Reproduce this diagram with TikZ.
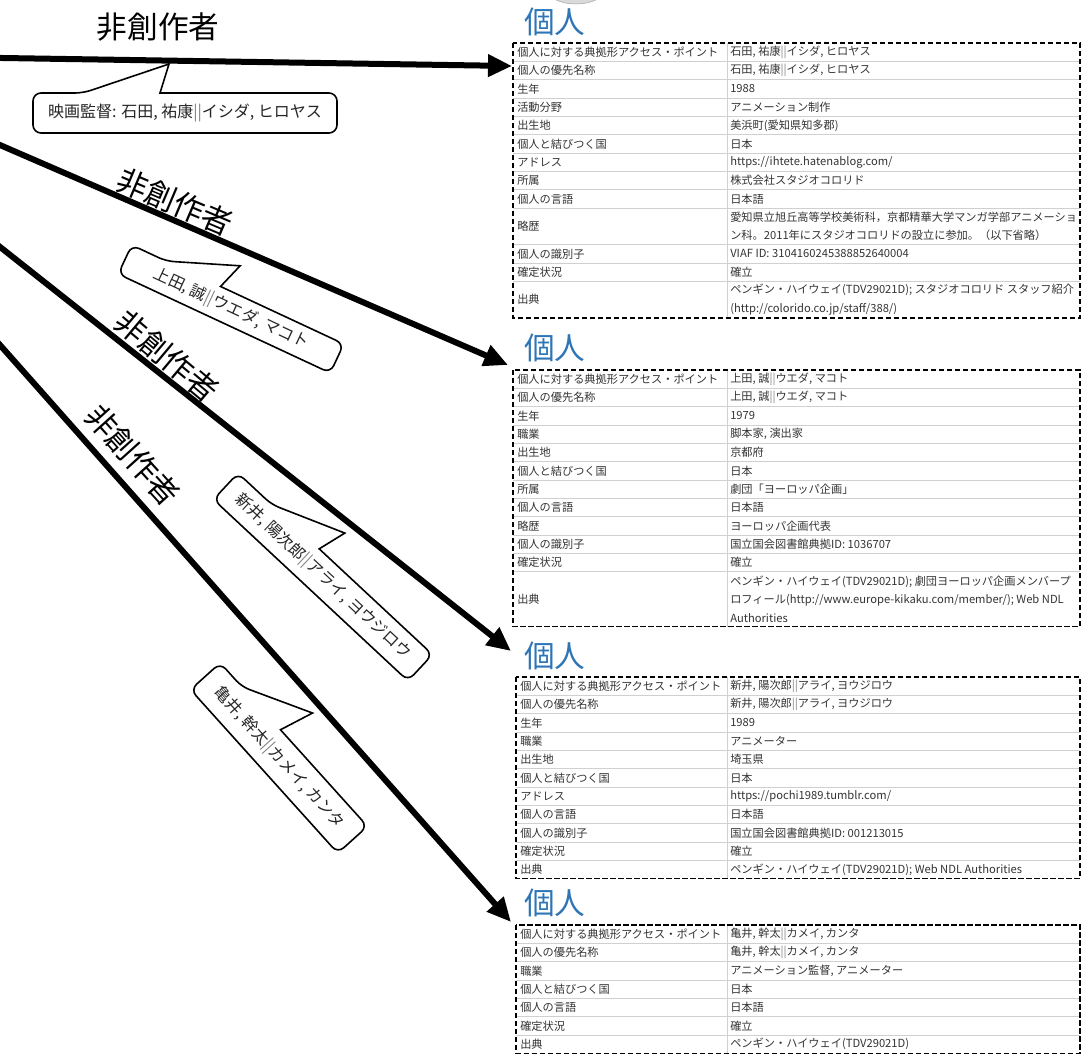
\documentclass[tikz,border=0pt]{standalone}
\usepackage{fontspec}
\setmainfont{Noto Sans CJK JP}
\usepackage{xcolor}
\usepackage{tikz}
\usetikzlibrary{arrows.meta}
\definecolor{head_blue}{HTML}{2E75B6}
\definecolor{rule_gray}{HTML}{D0D0D0}
\definecolor{cell_text}{HTML}{333333}

\begin{document}
\begin{tikzpicture}[x=0.75pt, y=-0.75pt, every node/.style={inner sep=0pt}]
    % Styles
    \tikzstyle{relation} = [line width=4.5pt, -{Triangle[length=18pt, width=16pt]}]
    \tikzstyle{rolelabel} = [font=\fontsize{23}{23}\selectfont]
    \tikzstyle{entityhead} = [anchor=west, text=head_blue, font=\fontsize{23}{23}\selectfont]
    \tikzstyle{tableframe} = [line width=1.1pt, dash pattern=on 4pt off 2pt]
    \tikzstyle{cellrule} = [draw=rule_gray, line width=0.6pt]
    \tikzstyle{fieldname} = [anchor=west, text=cell_text, font=\fontsize{8.4}{13.75}\selectfont]
    \tikzstyle{fieldvalue} = [fieldname, align=left]
    \tikzstyle{balloon} = [line width=1.2pt, fill=white, rounded corners=6pt]
    \tikzstyle{balloontext} = [text=black!85, font=\fontsize{12}{12}\selectfont]

    \useasboundingbox (0,0) rectangle (1084,1057);

    % Edge of a shape above the first table
    \filldraw[fill=gray!30, draw=gray!70] (576,-10) ellipse [x radius=28, y radius=14];

    % Table 1: Ishida
    \node[entityhead] (H1) at (524,22) {個人};
    \draw[cellrule] (513,61.33) -- (1080,61.33) (513,79.67) -- (1080,79.67) (513,98) -- (1080,98)
        (513,116.33) -- (1080,116.33) (513,134.67) -- (1080,134.67) (513,153) -- (1080,153)
        (513,171.33) -- (1080,171.33) (513,189.67) -- (1080,189.67) (513,208) -- (1080,208)
        (513,244.67) -- (1080,244.67) (513,263) -- (1080,263) (513,281.33) -- (1080,281.33)
        (727,43) -- (727,318);
    \draw[tableframe] (513,43) rectangle (1080,318);
    \node[fieldname] (N1_1) at (517,52.17) {個人に対する典拠形アクセス・ポイント};
    \node[fieldname] (N1_2) at (517,70.5) {個人の優先名称};
    \node[fieldname] (N1_3) at (517,88.83) {生年};
    \node[fieldname] (N1_4) at (517,107.17) {活動分野};
    \node[fieldname] (N1_5) at (517,125.5) {出生地};
    \node[fieldname] (N1_6) at (517,143.83) {個人と結びつく国};
    \node[fieldname] (N1_7) at (517,162.17) {アドレス};
    \node[fieldname] (N1_8) at (517,180.5) {所属};
    \node[fieldname] (N1_9) at (517,198.83) {個人の言語};
    \node[fieldname] (N1_10) at (517,226.33) {略歴};
    \node[fieldname] (N1_11) at (517,253.83) {個人の識別子};
    \node[fieldname] (N1_12) at (517,272.17) {確定状況};
    \node[fieldname] (N1_13) at (517,299.67) {出典};
    \node[fieldvalue] (V1_1) at (730,52.17) {石田, 祐康{\color{gray}||}イシダ, ヒロヤス};
    \node[fieldvalue] (V1_2) at (730,70.5) {石田, 祐康{\color{gray}||}イシダ, ヒロヤス};
    \node[fieldvalue] (V1_3) at (730,88.83) {1988};
    \node[fieldvalue] (V1_4) at (730,107.17) {アニメーション制作};
    \node[fieldvalue] (V1_5) at (730,125.5) {美浜町(愛知県知多郡)};
    \node[fieldvalue] (V1_6) at (730,143.83) {日本};
    \node[fieldvalue] (V1_7) at (730,162.17) {https://ihtete.hatenablog.com/};
    \node[fieldvalue] (V1_8) at (730,180.5) {株式会社スタジオコロリド};
    \node[fieldvalue] (V1_9) at (730,198.83) {日本語};
    \node[fieldvalue] (V1_10) at (730,226.33) {愛知県立旭丘高等学校美術科，京都精華大学マンガ学部アニメーショ\\ン科。2011年にスタジオコロリドの設立に参加。（以下省略）};
    \node[fieldvalue] (V1_11) at (730,253.83) {VIAF ID: 3104160245388852640004};
    \node[fieldvalue] (V1_12) at (730,272.17) {確立};
    \node[fieldvalue] (V1_13) at (730,299.67) {ペンギン・ハイウェイ(TDV29021D); スタジオコロリド スタッフ紹介\\(http://colorido.co.jp/staff/388/)};

    % Table 2: Ueda
    \node[entityhead] (H2) at (524,348) {個人};
    \draw[cellrule] (513,388.33) -- (1080,388.33) (513,406.67) -- (1080,406.67) (513,425) -- (1080,425)
        (513,443.33) -- (1080,443.33) (513,461.67) -- (1080,461.67) (513,480) -- (1080,480)
        (513,498.33) -- (1080,498.33) (513,516.67) -- (1080,516.67) (513,535) -- (1080,535)
        (513,553.33) -- (1080,553.33) (513,571.67) -- (1080,571.67)
        (727,370) -- (727,626.67);
    \draw[tableframe] (513,370) rectangle (1080,626.67);
    \node[fieldname] (N2_1) at (517,379.17) {個人に対する典拠形アクセス・ポイント};
    \node[fieldname] (N2_2) at (517,397.5) {個人の優先名称};
    \node[fieldname] (N2_3) at (517,415.83) {生年};
    \node[fieldname] (N2_4) at (517,434.17) {職業};
    \node[fieldname] (N2_5) at (517,452.5) {出生地};
    \node[fieldname] (N2_6) at (517,470.83) {個人と結びつく国};
    \node[fieldname] (N2_7) at (517,489.17) {所属};
    \node[fieldname] (N2_8) at (517,507.5) {個人の言語};
    \node[fieldname] (N2_9) at (517,525.83) {略歴};
    \node[fieldname] (N2_10) at (517,544.17) {個人の識別子};
    \node[fieldname] (N2_11) at (517,562.5) {確定状況};
    \node[fieldname] (N2_12) at (517,599.17) {出典};
    \node[fieldvalue] (V2_1) at (730,379.17) {上田, 誠{\color{gray}||}ウエダ, マコト};
    \node[fieldvalue] (V2_2) at (730,397.5) {上田, 誠{\color{gray}||}ウエダ, マコト};
    \node[fieldvalue] (V2_3) at (730,415.83) {1979};
    \node[fieldvalue] (V2_4) at (730,434.17) {脚本家, 演出家};
    \node[fieldvalue] (V2_5) at (730,452.5) {京都府};
    \node[fieldvalue] (V2_6) at (730,470.83) {日本};
    \node[fieldvalue] (V2_7) at (730,489.17) {劇団「ヨーロッパ企画」};
    \node[fieldvalue] (V2_8) at (730,507.5) {日本語};
    \node[fieldvalue] (V2_9) at (730,525.83) {ヨーロッパ企画代表};
    \node[fieldvalue] (V2_10) at (730,544.17) {国立国会図書館典拠ID: 1036707};
    \node[fieldvalue] (V2_11) at (730,562.5) {確立};
    \node[fieldvalue] (V2_12) at (730,599.17) {ペンギン・ハイウェイ(TDV29021D); 劇団ヨーロッパ企画メンバープ\\ロフィール(http://www.europe-kikaku.com/member/); Web NDL\\Authorities};

    % Table 3: Arai
    \node[entityhead] (H3) at (524,656) {個人};
    \draw[cellrule] (516,695.33) -- (1080,695.33) (516,713.67) -- (1080,713.67) (516,732) -- (1080,732)
        (516,750.33) -- (1080,750.33) (516,768.67) -- (1080,768.67) (516,787) -- (1080,787)
        (516,805.33) -- (1080,805.33) (516,823.67) -- (1080,823.67) (516,842) -- (1080,842)
        (516,860.33) -- (1080,860.33)
        (727,677) -- (727,878.67);
    \draw[tableframe] (516,677) rectangle (1080,878.67);
    \node[fieldname] (N3_1) at (520,686.17) {個人に対する典拠形アクセス・ポイント};
    \node[fieldname] (N3_2) at (520,704.5) {個人の優先名称};
    \node[fieldname] (N3_3) at (520,722.83) {生年};
    \node[fieldname] (N3_4) at (520,741.17) {職業};
    \node[fieldname] (N3_5) at (520,759.5) {出生地};
    \node[fieldname] (N3_6) at (520,777.83) {個人と結びつく国};
    \node[fieldname] (N3_7) at (520,796.17) {アドレス};
    \node[fieldname] (N3_8) at (520,814.5) {個人の言語};
    \node[fieldname] (N3_9) at (520,832.83) {個人の識別子};
    \node[fieldname] (N3_10) at (520,851.17) {確定状況};
    \node[fieldname] (N3_11) at (520,869.5) {出典};
    \node[fieldvalue] (V3_1) at (730,686.17) {新井, 陽次郎{\color{gray}||}アライ, ヨウジロウ};
    \node[fieldvalue] (V3_2) at (730,704.5) {新井, 陽次郎{\color{gray}||}アライ, ヨウジロウ};
    \node[fieldvalue] (V3_3) at (730,722.83) {1989};
    \node[fieldvalue] (V3_4) at (730,741.17) {アニメーター};
    \node[fieldvalue] (V3_5) at (730,759.5) {埼玉県};
    \node[fieldvalue] (V3_6) at (730,777.83) {日本};
    \node[fieldvalue] (V3_7) at (730,796.17) {https://pochi1989.tumblr.com/};
    \node[fieldvalue] (V3_8) at (730,814.5) {日本語};
    \node[fieldvalue] (V3_9) at (730,832.83) {国立国会図書館典拠ID: 001213015};
    \node[fieldvalue] (V3_10) at (730,851.17) {確立};
    \node[fieldvalue] (V3_11) at (730,869.5) {ペンギン・ハイウェイ(TDV29021D); Web NDL Authorities};

    % Table 4: Kamei
    \node[entityhead] (H4) at (524,903) {個人};
    \draw[cellrule] (516,943.33) -- (1080,943.33) (516,961.67) -- (1080,961.67) (516,980) -- (1080,980)
        (516,998.33) -- (1080,998.33) (516,1016.67) -- (1080,1016.67) (516,1035) -- (1080,1035)
        (727,925) -- (727,1053.33);
    \draw[tableframe] (516,925) rectangle (1080,1053.33);
    \node[fieldname] (N4_1) at (520,934.17) {個人に対する典拠形アクセス・ポイント};
    \node[fieldname] (N4_2) at (520,952.5) {個人の優先名称};
    \node[fieldname] (N4_3) at (520,970.83) {職業};
    \node[fieldname] (N4_4) at (520,989.17) {個人と結びつく国};
    \node[fieldname] (N4_5) at (520,1007.5) {個人の言語};
    \node[fieldname] (N4_6) at (520,1025.83) {確定状況};
    \node[fieldname] (N4_7) at (520,1044.17) {出典};
    \node[fieldvalue] (V4_1) at (730,934.17) {亀井, 幹太{\color{gray}||}カメイ, カンタ};
    \node[fieldvalue] (V4_2) at (730,952.5) {亀井, 幹太{\color{gray}||}カメイ, カンタ};
    \node[fieldvalue] (V4_3) at (730,970.83) {アニメーション監督, アニメーター};
    \node[fieldvalue] (V4_4) at (730,989.17) {日本};
    \node[fieldvalue] (V4_5) at (730,1007.5) {日本語};
    \node[fieldvalue] (V4_6) at (730,1025.83) {確立};
    \node[fieldvalue] (V4_7) at (730,1044.17) {ペンギン・ハイウェイ(TDV29021D)};

    % Arrow ends
    \coordinate (S1) at (-10,57.8);
    \coordinate (S2) at (-10,140.7);
    \coordinate (S3) at (-10,239);
    \coordinate (S4) at (-10,333.7);
    \coordinate (E1) at (512,66);
    \coordinate (E2) at (508,365);
    \coordinate (E3) at (511,651);
    \coordinate (E4) at (511,922);

    % Relations: film -> person
    \draw[relation] (S1) -- (E1);
    \draw[relation] (S2) -- (E2);
    \draw[relation] (S3) -- (E3);
    \draw[relation] (S4) -- (E4);

    % Relation labels
    \node[rolelabel] (R1) at (158,27) {非創作者};
    \node[rolelabel, rotate=-23] (R2) at (175,202) {非創作者};
    \node[rolelabel, rotate=-40] (R3) at (167,356) {非創作者};
    \node[rolelabel, rotate=-48] (R4) at (133,455) {非創作者};

    % Callouts
    \begin{scope}[shift={(185,113)}]
        \draw[balloon] (0,20) -- (-152,20) -- (-152,-20) -- (-102,-20) [sharp corners] -- (-16,-49) -- (-25,-20) [rounded corners=6pt] -- (152,-20) -- (152,20) -- cycle;
    \end{scope}
    \node[balloontext] (C1) at (185,113) {映画監督: 石田, 祐康{\color{gray}||}イシダ, ヒロヤス};

    \begin{scope}[shift={(231,309)}, rotate=-25]
        \draw[balloon] (0,16) -- (-117,16) -- (-117,-16) -- (-79,-16) [sharp corners] -- (-10,-43) -- (-19,-16) [rounded corners=6pt] -- (117,-16) -- (117,16) -- cycle;
    \end{scope}
    \node[balloontext, rotate=-25] (C2) at (231,309) {上田, 誠{\color{gray}||}ウエダ, マコト};

    \begin{scope}[shift={(323,577)}, rotate=-43]
        \draw[balloon] (0,18) -- (-133,18) -- (-133,-18) -- (-87,-18) [sharp corners] -- (-14,-47) -- (-22,-18) [rounded corners=6pt] -- (133,-18) -- (133,18) -- cycle;
    \end{scope}
    \node[balloontext, rotate=-43] (C3) at (323,577) {新井, 陽次郎{\color{gray}||}アライ, ヨウジロウ};

    \begin{scope}[shift={(279,758)}, rotate=-48]
        \draw[balloon] (0,20) -- (-110,20) -- (-110,-20) -- (-78,-20) [sharp corners] -- (-11,-55) -- (-20,-20) [rounded corners=6pt] -- (110,-20) -- (110,20) -- cycle;
    \end{scope}
    \node[balloontext, rotate=-48] (C4) at (279,758) {亀井, 幹太{\color{gray}||}カメイ, カンタ};
\end{tikzpicture}
\end{document}
